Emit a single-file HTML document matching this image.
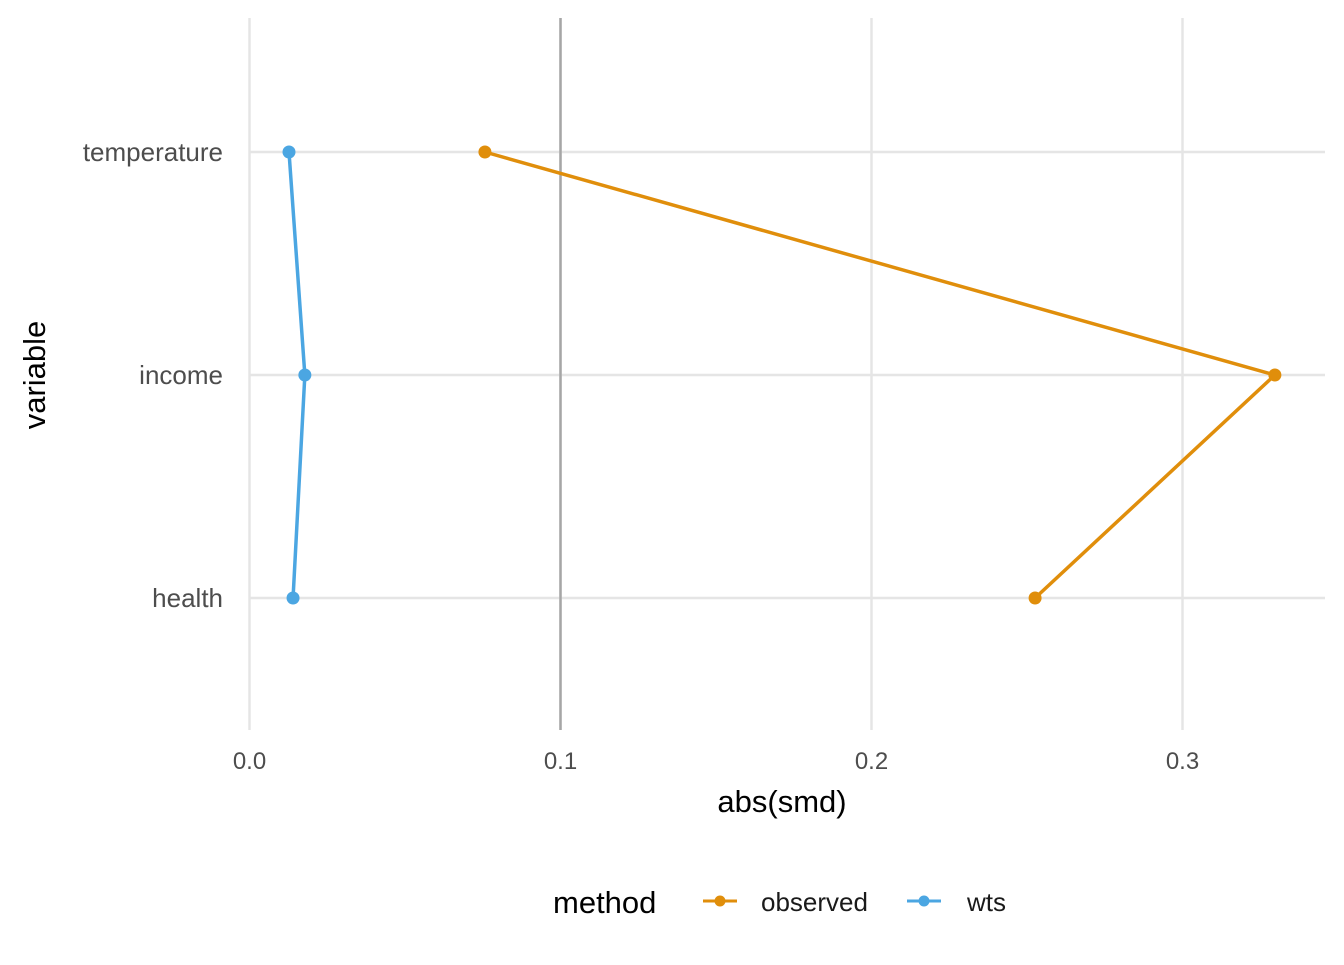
<!DOCTYPE html>
<html><head><meta charset="utf-8"><style>
body{margin:0;background:#fff;}
svg text{font-family:"Liberation Sans",Arial,sans-serif;}
</style></head><body>
<svg id="chart" width="1344" height="960" viewBox="0 0 1344 960">
<g id="grid"></g>
<line x1="560.5" y1="18" x2="560.5" y2="730" stroke="#a6a6a6" stroke-width="2.5"/>
<g id="marks"></g>
<g id="axes"></g>
<text x="782" y="812" font-size="31" text-anchor="middle" fill="#000">abs(smd)</text>
<text transform="translate(45,375) rotate(-90)" font-size="31" text-anchor="middle" fill="#000">variable</text>
<g>
<text x="553" y="913" font-size="31" fill="#000">method</text>
<g>
<line x1="703" y1="901" x2="737" y2="901" stroke="#E08E0B" stroke-width="3"/>
<circle cx="720" cy="901" r="5.5" fill="#E08E0B"/>
<text x="761" y="911" font-size="26" fill="#1a1a1a">observed</text></g>
<g>
<line x1="907" y1="901" x2="941" y2="901" stroke="#4BA6E2" stroke-width="3"/>
<circle cx="924" cy="901" r="5.5" fill="#4BA6E2"/>
<text x="967" y="911" font-size="26" fill="#1a1a1a">wts</text></g>
</g>
</svg>
<script>
const categories=["temperature","income","health"];
const observed=[0.0757,0.3297,0.2526];
const wts=[0.0127,0.0178,0.0140];
const xTicks=[0,0.1,0.2,0.3];
const xTickLabels=["0.0","0.1","0.2","0.3"];
const NS="http://www.w3.org/2000/svg";
const x=v=>249.5+v*3110;
const yPos={temperature:152,income:375,health:598};
const y=c=>yPos[c];
function mk(tag,attrs,parent){const e=document.createElementNS(NS,tag);for(const k in attrs)e.setAttribute(k,attrs[k]);parent.appendChild(e);return e;}
const grid=document.getElementById('grid'),axes=document.getElementById('axes'),marks=document.getElementById('marks');
xTicks.forEach((t,i)=>{
 const l=mk('line',{x1:x(t),x2:x(t),y1:18,y2:730,stroke:'#e5e5e5','stroke-width':2.5},grid);
 
 
 const tx=mk('text',{x:x(t),y:769,'font-size':24,'text-anchor':'middle',fill:'#4d4d4d'},axes);
 tx.textContent=xTickLabels[i];
 
 
});
categories.forEach(c=>{
 const l=mk('line',{x1:249,x2:1325,y1:y(c),y2:y(c),stroke:'#e5e5e5','stroke-width':2.5},grid);
 
 
 const tx=mk('text',{x:223,y:y(c)+9,'font-size':26,'text-anchor':'end',fill:'#4d4d4d'},axes);
 tx.textContent=c;
 
 
});
function series(vals,color,name){
 const p=mk('polyline',{points:vals.map((v,i)=>x(v)+','+y(categories[i])).join(' '),fill:'none',stroke:color,'stroke-width':3.5},marks);
 
 
 vals.forEach((v,i)=>{
  const c=mk('circle',{cx:x(v),cy:y(categories[i]),r:6.5,fill:color},marks);
  
  
 });
}
series(observed,'#E08E0B','observed');
series(wts,'#4BA6E2','wts');
</script>
</body></html>
